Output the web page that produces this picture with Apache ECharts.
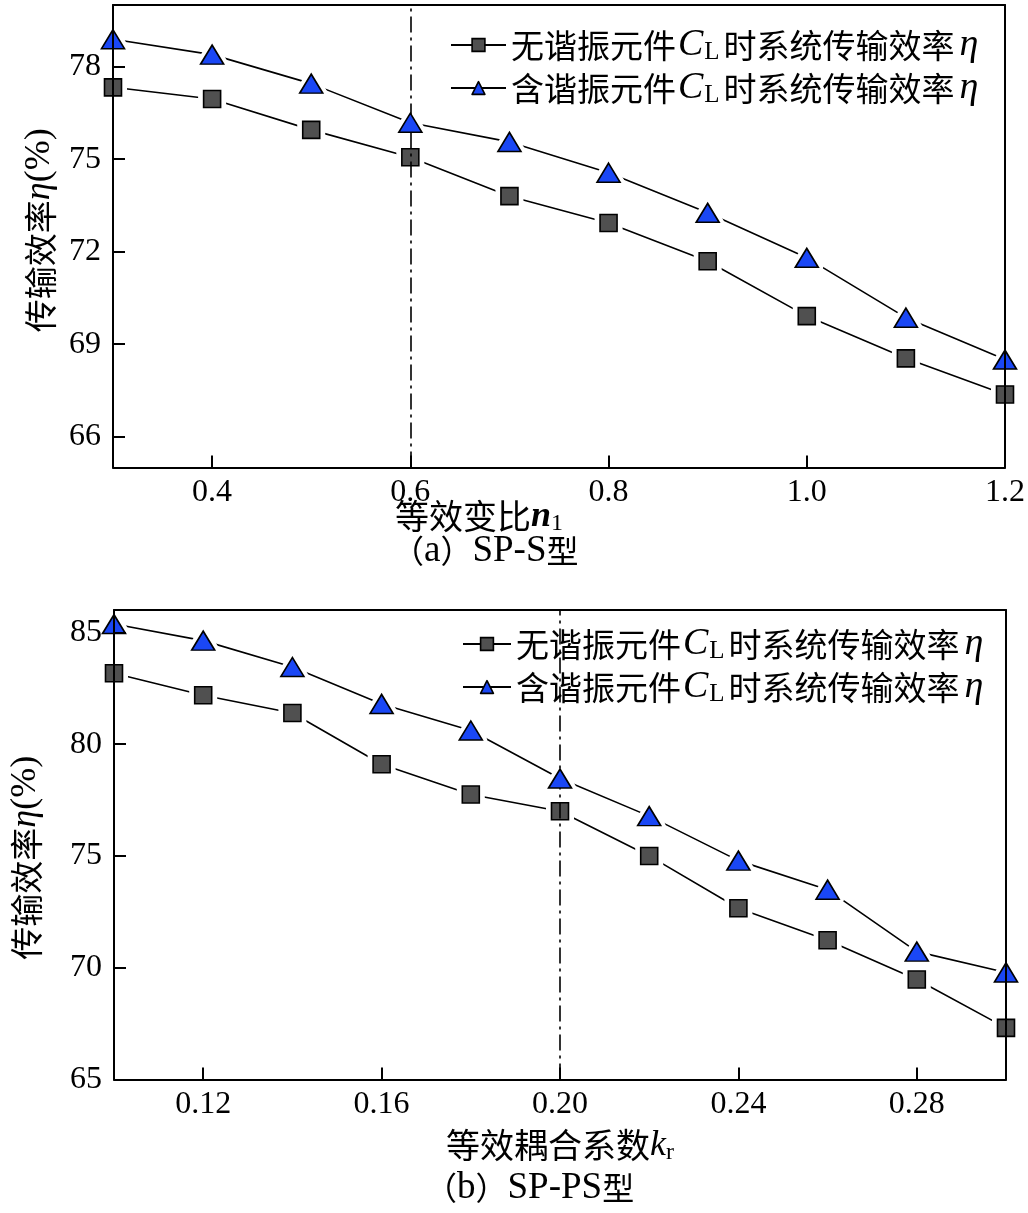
<!DOCTYPE html>
<html><head><meta charset="utf-8">
<script src="https://cdn.jsdelivr.net/npm/echarts@6/dist/echarts.min.js"></script>
<style>html,body{margin:0;padding:0;background:#fff}#c{width:1028px;height:1213px}</style>
</head><body><div id="c"></div>
<script>
// ---- data (a) SP-S ----
const aN = [0.3, 0.4, 0.5, 0.6, 0.7, 0.8, 0.9, 1.0, 1.1, 1.2];
const aWithout = [77.33, 76.95, 75.95, 75.06, 73.80, 72.93, 71.69, 69.91, 68.54, 67.37];
const aWith = [78.89, 78.39, 77.45, 76.18, 75.56, 74.56, 73.26, 71.80, 69.86, 68.50];
const aXTicks = [0.4, 0.6, 0.8, 1.0, 1.2];
const aYTicks = [66, 69, 72, 75, 78];
// ---- data (b) SP-PS ----
const bK = [0.10, 0.12, 0.14, 0.16, 0.18, 0.20, 0.22, 0.24, 0.26, 0.28, 0.30];
const bWithout = [83.17, 82.19, 81.39, 79.10, 77.75, 77.00, 75.00, 72.66, 71.23, 69.47, 67.31];
const bWith = [85.37, 84.63, 83.45, 81.80, 80.61, 78.46, 76.78, 74.79, 73.49, 70.72, 69.79];
const bXTicks = [0.12, 0.16, 0.20, 0.24, 0.28];
const bYTicks = [65, 70, 75, 80, 85];

const nameWithout = '无谐振元件CL时系统传输效率η';
const nameWith = '含谐振元件CL时系统传输效率η';

const SERIF = '"Liberation Serif", "Noto Sans CJK SC", serif';
const CJK = '"Noto Sans CJK SC", "Liberation Serif", sans-serif';
const SQ_COLOR = '#505050';
const TRI_COLOR = '#1a47f5';

const legendRich = {
  t: {fontFamily: CJK, fontSize: 33, color: '#000', lineHeight: 40},
  c: {fontFamily: SERIF, fontStyle: 'italic', fontSize: 38, color: '#000', lineHeight: 40, padding: [0, 1, 0, 2]},
  s: {fontFamily: SERIF, fontSize: 25, color: '#000', verticalAlign: 'bottom', lineHeight: 22, padding: [0, 4, 0, 0]},
  e: {fontFamily: SERIF, fontStyle: 'italic', fontSize: 38, color: '#000', lineHeight: 40, padding: [0, 0, 0, 5]}
};
function legendFmt(name) {
  const head = name.slice(0, 5), tail = name.slice(7, 14);
  return '{t|' + head + '}{c|C}{s|L}{t|' + tail + '}{e|η}';
}

function pairs(xs, ys) { return xs.map((x, i) => [x, ys[i]]); }

function xAxes(gi, min, max, ticks, digits) {
  return [{
    type: 'value', gridIndex: gi, min: min, max: max, position: 'bottom', z: 6,
    axisLine: {show: true, onZero: false, lineStyle: {color: '#000', width: 2}},
    axisTick: {show: true, inside: true, length: 12, customValues: ticks, lineStyle: {color: '#000', width: 2}},
    axisLabel: {customValues: ticks, formatter: v => Number(v).toFixed(digits), fontFamily: SERIF, fontSize: 32, color: '#000', margin: 9},
    splitLine: {show: false}
  }, {
    type: 'value', gridIndex: gi, min: min, max: max, position: 'top', z: 6,
    axisLine: {show: true, onZero: false, lineStyle: {color: '#000', width: 2}},
    axisTick: {show: false}, axisLabel: {show: false}, splitLine: {show: false}
  }];
}
function yAxes(gi, min, max, ticks) {
  return [{
    type: 'value', gridIndex: gi, min: min, max: max, position: 'left', z: 6,
    axisLine: {show: true, onZero: false, lineStyle: {color: '#000', width: 2}},
    axisTick: {show: true, inside: true, length: 12, customValues: ticks, lineStyle: {color: '#000', width: 2}},
    axisLabel: {customValues: ticks, fontFamily: SERIF, fontSize: 32, color: '#000', margin: 12},
    splitLine: {show: false}
  }, {
    type: 'value', gridIndex: gi, min: min, max: max, position: 'right', z: 6,
    axisLine: {show: true, onZero: false, lineStyle: {color: '#000', width: 2}},
    axisTick: {show: false}, axisLabel: {show: false}, splitLine: {show: false}
  }];
}

function seriesSet(xi, yi, xs, ysSq, ysTri, vline) {
  const sqStyle = {color: SQ_COLOR, borderColor: '#000', borderWidth: 1.6, opacity: 1};
  const triStyle = {color: TRI_COLOR, borderColor: '#000', borderWidth: 1.6, opacity: 1};
  // the line series' own symbols carry a thick white rim that opens a gap in the line
  const sqGap = {color: SQ_COLOR, borderColor: '#fff', borderWidth: 11, opacity: 1};
  const triGap = {color: TRI_COLOR, borderColor: '#fff', borderWidth: 9, borderJoin: 'round', opacity: 1};
  const lineStyle = {color: '#000', width: 1.6};
  const noLine = {width: 0, opacity: 0};
  const common = {xAxisIndex: xi, yAxisIndex: yi, silent: true, animation: false, showSymbol: true, showAllSymbol: true};
  const out = [];
  out.push(Object.assign({type: 'line', name: nameWithout, data: pairs(xs, ysSq),
    symbol: 'rect', symbolSize: 17, itemStyle: sqGap, lineStyle: lineStyle, z: 2}, common));
  out.push(Object.assign({type: 'line', name: nameWith, data: pairs(xs, ysTri),
    symbol: 'triangle', symbolSize: [23, 19], itemStyle: triGap, lineStyle: lineStyle, z: 2}, common));
  // markers on top
  out.push(Object.assign({type: 'line', name: 'symA', data: pairs(xs, ysSq),
    symbol: 'rect', symbolSize: 17, itemStyle: sqStyle, lineStyle: noLine, z: 4}, common));
  out.push(Object.assign({type: 'line', name: 'symB', data: pairs(xs, ysTri),
    symbol: 'triangle', symbolSize: [23, 19], itemStyle: triStyle, lineStyle: noLine, z: 5,
    markLine: {silent: true, symbol: 'none', animation: false, label: {show: false},
      lineStyle: {color: '#000', width: 1.6, type: [16, 5, 3, 5]}, data: [{xAxis: vline}]}}, common));
  return out;
}

const chart = echarts.init(document.getElementById('c'), null, {renderer: 'canvas'});
const xA = xAxes(0, 0.3, 1.2, aXTicks, 1);
const xB = xAxes(1, 0.1, 0.3, bXTicks, 2);
const yA = yAxes(0, 65, 80, aYTicks);
const yB = yAxes(1, 65, 86, bYTicks);

const xNameRich = (bold) => ({
  t: {fontFamily: CJK, fontSize: 34, color: '#000', lineHeight: 38},
  n: {fontFamily: SERIF, fontStyle: 'italic', fontWeight: bold ? 'bold' : 'normal', fontSize: 36, color: '#000', lineHeight: 38},
  s: {fontFamily: SERIF, fontSize: 24, color: '#000', verticalAlign: 'bottom', lineHeight: 22}});
xA[0].name = '{t|等效变比}{n|n}{s|1}';
xA[0].nameLocation = 'middle';
xA[0].nameGap = 30;
xA[0].nameMoveOverlap = false;
xA[0].nameTextStyle = {padding: [0, 160, 0, 0], rich: xNameRich(true)};
xB[0].name = '{t|等效耦合系数}{n|k}{s|r}';
xB[0].nameLocation = 'middle';
xB[0].nameGap = 47;
xB[0].nameMoveOverlap = false;
xB[0].nameTextStyle = {rich: xNameRich(false)};
const yRich = {
  t: {fontFamily: CJK, fontSize: 33, color: '#000', lineHeight: 36},
  e: {fontFamily: SERIF, fontStyle: 'italic', fontSize: 36, color: '#000', lineHeight: 36},
  p: {fontFamily: SERIF, fontSize: 36, color: '#000', lineHeight: 36}};
yA[0].name = '{t|传输效率}{e|η}{p|(%)}';
yA[0].nameLocation = 'middle';
yA[0].nameGap = 55;
yA[0].nameMoveOverlap = false;
yA[0].nameTextStyle = {padding: [0, 0, 0, 12], rich: yRich};
yB[0].name = '{t|传输效率}{e|η}{p|(%)}';
yB[0].nameLocation = 'middle';
yB[0].nameGap = 70;
yB[0].nameMoveOverlap = false;
yB[0].nameTextStyle = {padding: [0, 26, 0, 0], rich: yRich};

const capRich = {
  t: {fontFamily: CJK, fontSize: 32, fontWeight: 'normal', color: '#000', lineHeight: 36},
  l: {fontFamily: SERIF, fontSize: 37, fontWeight: 'normal', color: '#000', lineHeight: 36}};

const legendCommon = {data: [nameWithout, nameWith], orient: 'vertical', itemHeight: 16, itemGap: 4,
  formatter: legendFmt, textStyle: {rich: legendRich}, padding: 0, selectedMode: false,
  itemStyle: {borderColor: '#000', borderWidth: 1.6}};

chart.setOption({
  backgroundColor: '#fff',
  animation: false,
  title: [
    {text: '{t|（}{l|a}{t|）}{l|SP-S}{t|型}', left: 392, top: 533, textStyle: {fontWeight: 'normal', rich: capRich}, padding: 0},
    {text: '{t|（}{l|b}{t|）}{l|SP-PS}{t|型}', left: 425, top: 1170, textStyle: {fontWeight: 'normal', rich: capRich}, padding: 0}
  ],
  grid: [
    {left: 113, top: 5, right: 22, height: 462.5, containLabel: false},
    {left: 108, top: 610, right: 22, height: 469.5, containLabel: false}
  ],
  legend: [
    Object.assign({left: 450, top: 26, itemWidth: 55}, legendCommon),
    Object.assign({left: 462, top: 625, itemWidth: 48}, legendCommon)
  ],
  xAxis: [xA[0], xA[1], xB[0], xB[1]],
  yAxis: [yA[0], yA[1], yB[0], yB[1]],
  series: [].concat(seriesSet(0, 0, aN, aWithout, aWith, 0.6), seriesSet(2, 2, bK, bWithout, bWith, 0.20))
});
</script></body></html>
